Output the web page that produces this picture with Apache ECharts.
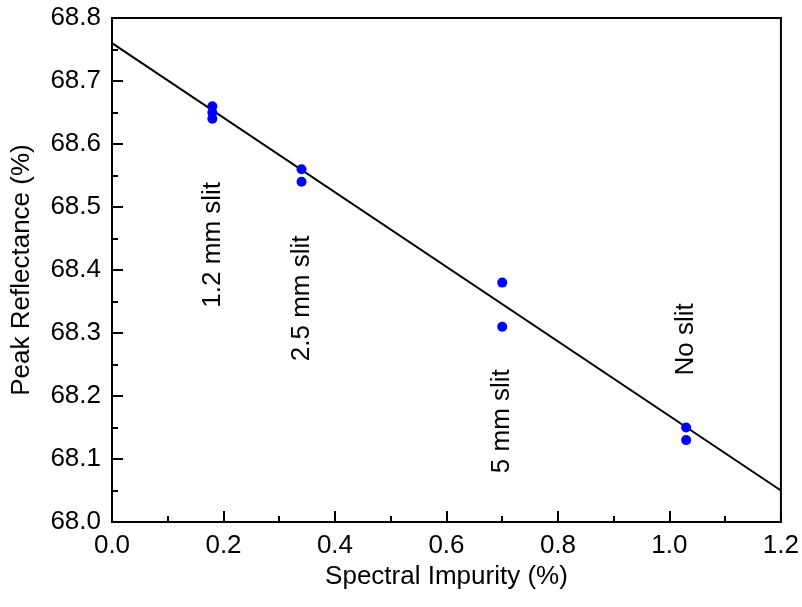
<!DOCTYPE html>
<html>
<head>
<meta charset="utf-8">
<script src="https://cdn.jsdelivr.net/npm/echarts@6/dist/echarts.min.js"></script>
<style>
html,body{margin:0;padding:0;background:#fff;}
#chart{width:802px;height:607px;}
</style>
</head>
<body>
<div id="chart"></div>
<script>
// measured points
const impurity = [0.18, 0.18, 0.18, 0.34, 0.34, 0.70, 0.70, 1.03, 1.03];
const reflectance = [68.66, 68.65, 68.64, 68.56, 68.54, 68.38, 68.31, 68.15, 68.13];
// linear fit
const fitX = [0, 1.2];
const fitY = [68.76, 68.05];
// slit annotations
const slitNames = ['1.2 mm slit', '2.5 mm slit', '5 mm slit', 'No slit'];
const slitX = [0.18, 0.34, 0.70, 1.03];
const slitY = [68.44, 68.355, 68.16, 68.29];

const font = "'Liberation Sans', Arial, sans-serif";
const fs = 26;
const chart = echarts.init(document.getElementById('chart'));

chart.setOption({
  animation: false,
  grid: {
    left: 112, right: 17, top: 18, bottom: 85,
    show: true, borderColor: '#000', borderWidth: 2
  },
  xAxis: {
    type: 'value',
    min: 0, max: 1.2, interval: 0.2,
    name: 'Spectral Impurity (%)',
    nameLocation: 'middle',
    nameGap: 38,
    nameTextStyle: {color: '#000', fontSize: fs, fontFamily: font},
    axisLine: {lineStyle: {color: '#000', width: 2}},
    axisTick: {inside: true, length: 11, lineStyle: {color: '#000', width: 2}},
    minorTick: {show: true, splitNumber: 2, length: 6, lineStyle: {color: '#000', width: 2}},
    axisLabel: {color: '#000', fontSize: fs, fontFamily: font, margin: 11,
      formatter: v => v.toFixed(1)},
    splitLine: {show: false}
  },
  yAxis: {
    type: 'value',
    min: 68.0, max: 68.8, interval: 0.1,
    name: 'Peak Reflectance (%)',
    nameLocation: 'middle',
    nameGap: 77,
    nameRotate: 90,
    nameTextStyle: {color: '#000', fontSize: fs, fontFamily: font},
    axisLine: {lineStyle: {color: '#000', width: 2}},
    axisTick: {inside: true, length: 11, lineStyle: {color: '#000', width: 2}},
    minorTick: {show: true, splitNumber: 2, length: 6, lineStyle: {color: '#000', width: 2}},
    axisLabel: {color: '#000', fontSize: fs, fontFamily: font, margin: 11,
      formatter: v => v.toFixed(1)},
    splitLine: {show: false}
  },
  series: [
    {
      type: 'line',
      data: fitX.map((x, i) => [x, fitY[i]]),
      symbol: 'none',
      lineStyle: {color: '#000', width: 2},
      z: 2
    },
    {
      type: 'scatter',
      data: impurity.map((x, i) => [x, reflectance[i]]),
      symbolSize: 10,
      itemStyle: {color: '#0000ff', opacity: 1},
      z: 3
    },
    {
      type: 'scatter',
      data: slitX.map((x, i) => ({value: [x, slitY[i]], name: slitNames[i]})),
      symbolSize: 1,
      itemStyle: {color: 'rgba(0,0,0,0)', opacity: 1},
      label: {
        show: true,
        position: 'inside',
        rotate: 90,
        formatter: p => p.name,
        color: '#000',
        opacity: 1,
        fontSize: fs,
        fontFamily: font
      },
      z: 4
    }
  ]
});
</script>
</body>
</html>
